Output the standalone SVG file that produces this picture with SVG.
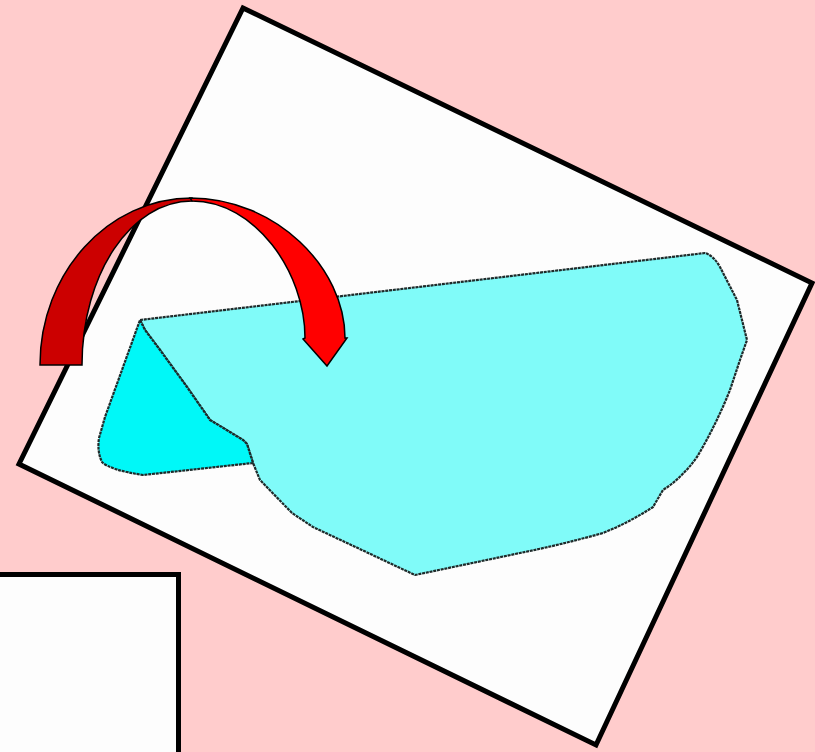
<svg xmlns="http://www.w3.org/2000/svg" width="815" height="752" viewBox="0 0 815 752">
<style>
.frame{fill:#fdfdfd;stroke:#000;stroke-width:5;stroke-linejoin:miter}
.edge{stroke:#1e2a2a;stroke-width:2.2;stroke-linejoin:round;stroke-dasharray:3 0.8}
.band{stroke:#000;stroke-width:1.5;stroke-linejoin:miter}
</style>
<rect x="0" y="0" width="815" height="752" fill="#ffcccc"/>
<g id="sheet">
<polygon class="frame" points="243,8 812,283 596,745 19,464"/>
</g>
<g id="main-area">
<path class="edge" fill="#80fbf9" d="M140,320 L705,253 Q714,256 720,267 L737,300 L747,340 L740,360 L730,390 Q716,425 697,457 Q682,478 663,490 L653,507 Q630,522 603,533 Q560,545 520,553 L415,575 L313,527 L292,513 L260,480 L253,463 L247,444 L243,440 L210,420 L187,387 L160,350 L145,330 Z"/>
</g>
<g id="folded-flap">
<path class="edge" fill="#00f8f8" d="M140,320 L145,330 L160,350 L187,387 L210,420 L243,440 L247,444 L253,463 L143,475 Q110,470 102,462 Q97,452 99,438 L105,417 Z"/>
</g>
<g id="box">
<rect class="frame" x="-10" y="574.5" width="188.5" height="200"/>
</g>
<g id="connectors">
<path class="band" fill="#cc0000" d="M40,365 C40,273 108,198 192,198 L192,201 C131,201 82,274 82,365 Z"/>
<path class="band" fill="#ff0000" d="M190,198 C276,198 345,268 345,338 L347,338 L327,366 L303,339 L305,338 C305,272 255,201 192,201 Z"/>
</g>
</svg>
